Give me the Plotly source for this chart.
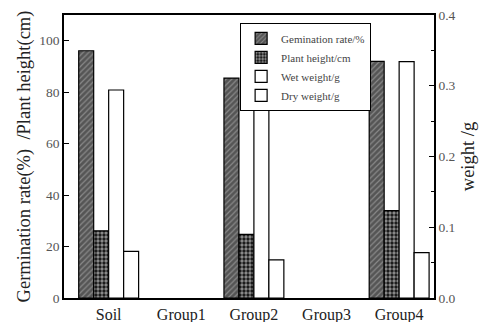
import plotly.graph_objects as go

# Seedling measurements per growing medium
groups = ["Soil", "Group1", "Group2", "Group3", "Group4"]
germination_rate = [96.1, None, 85.5, None, 92.0]   # %
plant_height = [26.1, None, 24.7, None, 34.0]       # cm
wet_weight = [0.294, None, 0.290, None, 0.334]      # g
dry_weight = [0.066, None, 0.054, None, 0.064]      # g

serif = "Liberation Serif"
outline = dict(color="black", width=1.2)

fig = go.Figure()
fig.add_trace(go.Bar(
    x=groups, y=germination_rate, name="Gemination rate/%",
    offsetgroup="a", alignmentgroup="all", yaxis="y",
    marker=dict(color="#5a5a5a", line=outline,
                pattern=dict(shape="/", fgcolor="#bdbdbd", bgcolor="#555555",
                             size=4, solidity=0.3)),
))
fig.add_trace(go.Bar(
    x=groups, y=plant_height, name="Plant height/cm",
    offsetgroup="b", alignmentgroup="all", yaxis="y",
    marker=dict(color="black", line=outline,
                pattern=dict(shape=".", fgcolor="white", bgcolor="#111111",
                             size=4, solidity=0.55)),
))
fig.add_trace(go.Bar(
    x=groups, y=wet_weight, name="Wet weight/g",
    offsetgroup="c", alignmentgroup="all", yaxis="y2",
    marker=dict(color="white", line=outline),
))
fig.add_trace(go.Bar(
    x=groups, y=dry_weight, name="Dry weight/g",
    offsetgroup="d", alignmentgroup="all", yaxis="y2",
    marker=dict(color="white", line=outline),
))

tick_font = dict(family=serif, size=13.5, color="#555555")
title_font = dict(family=serif, size=18.5, color="#222222")

fig.update_layout(
    width=489, height=322,
    margin=dict(l=64, r=55, t=15, b=24),
    paper_bgcolor="white", plot_bgcolor="white",
    barmode="group", bargap=0.175, bargroupgap=0,
    font=dict(family=serif, color="black"),
    showlegend=True,
    legend=dict(
        x=0.476, y=0.972, xanchor="left", yanchor="top",
        bordercolor="black", borderwidth=1, bgcolor="white",
        font=dict(family=serif, size=11, color="#444444"),
        tracegroupgap=0, itemwidth=30,
    ),
    xaxis=dict(
        range=[-0.615, 4.48], showline=True, linecolor="black", linewidth=1.5,
        mirror=True, ticks="", ticklabelstandoff=1, automargin=False,
        tickfont=dict(family=serif, size=16, color="#222222"),
        showgrid=False, zeroline=False,
    ),
    yaxis=dict(
        range=[0, 110], tickvals=[0, 20, 40, 60, 80, 100],
        showline=True, linecolor="black", linewidth=1.5,
        ticks="inside", ticklen=5, tickcolor="black", automargin=False,
        tickfont=tick_font, showgrid=False, zeroline=False,
        title=dict(text="Germination rate(%)  /Plant height(cm)",
                   font=title_font, standoff=4),
    ),
    yaxis2=dict(
        range=[0, 0.4], tickvals=[0.0, 0.1, 0.2, 0.3, 0.4], tickformat=".1f",
        overlaying="y", side="right",
        showline=True, linecolor="black", linewidth=1.5,
        ticks="inside", ticklen=5, tickcolor="black", automargin=False,
        minor=dict(ticks="inside", ticklen=3, dtick=0.05, tickcolor="black"),
        tickfont=tick_font, showgrid=False, zeroline=False,
        title=dict(text="weight /g", font=title_font, standoff=6),
    ),
)

fig.write_html("out.html")
